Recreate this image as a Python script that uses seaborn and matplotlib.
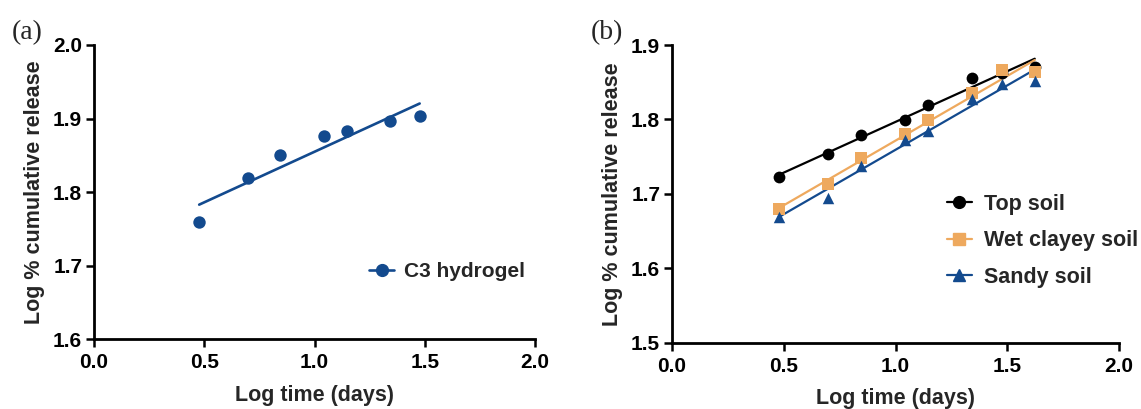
import matplotlib
matplotlib.use("Agg")
import matplotlib.pyplot as plt
from matplotlib.lines import Line2D
from matplotlib.ticker import FormatStrFormatter
import numpy as np
import pandas as pd
import seaborn as sns

# ---------------- data ----------------
log_time_a = [0.477, 0.699, 0.845, 1.041, 1.146, 1.342, 1.477]
c3_hydrogel = [1.759, 1.819, 1.851, 1.876, 1.883, 1.897, 1.903]

log_time_b = [0.477, 0.699, 0.845, 1.041, 1.146, 1.342, 1.477, 1.623]
top_soil = [1.722, 1.754, 1.779, 1.799, 1.819, 1.855, 1.863, 1.871]
wet_clayey_soil = [1.679, 1.713, 1.748, 1.780, 1.799, 1.836, 1.866, 1.864]
sandy_soil = [1.669, 1.695, 1.737, 1.772, 1.785, 1.828, 1.848, 1.852]

series_b = ["Top soil", "Wet clayey soil", "Sandy soil"]
x_ticks = [0.0, 0.5, 1.0, 1.5, 2.0]
y_ticks_a = [1.6, 1.7, 1.8, 1.9, 2.0]
y_ticks_b = [1.5, 1.6, 1.7, 1.8, 1.9]

NAVY = "#134a8e"
ORANGE = "#eea95e"
BLACK = "#000000"

sns.set_theme(style="ticks")
plt.rcParams["font.family"] = ["Liberation Sans", "DejaVu Sans"]
plt.rcParams["font.weight"] = "bold"
plt.rcParams["axes.labelweight"] = "bold"

fig = plt.figure(figsize=(11.41, 4.09), dpi=100)
W, H = 1141, 409
ax_a = fig.add_axes([94 / W, 1 - 339.3 / H, 441 / W, 294.3 / H])
ax_b = fig.add_axes([672 / W, 1 - 342.7 / H, 447 / W, 297.7 / H])

TICK_FS = 15
LAB_FS = 15.5

def style_axes(ax, yticks):
    ax.set_xlim(0, 2.0)
    ax.set_ylim(yticks[0], yticks[-1])
    ax.set_xticks(x_ticks)
    ax.set_yticks(yticks)
    ax.xaxis.set_major_formatter(FormatStrFormatter("%.1f"))
    ax.yaxis.set_major_formatter(FormatStrFormatter("%.1f"))
    for s in ["top", "right"]:
        ax.spines[s].set_visible(False)
    for s in ["left", "bottom"]:
        ax.spines[s].set_linewidth(2.0)
        ax.spines[s].set_color("black")
    ax.tick_params(axis="x", direction="out", length=6, width=1.8, colors="black",
                   labelsize=TICK_FS, pad=4)
    ax.tick_params(axis="y", direction="out", length=5.5, width=1.8, colors="black",
                   labelsize=TICK_FS, pad=3)
    for lab in ax.get_xticklabels() + ax.get_yticklabels():
        lab.set_fontweight("bold")
    ax.set_xlabel("Log time (days)", fontsize=LAB_FS, fontweight="bold", labelpad=9)
    ax.set_ylabel("Log % cumulative release", fontsize=LAB_FS, fontweight="bold", labelpad=6)
    ax.set_facecolor("white")

# ---------------- panel (a) ----------------
df_a = pd.DataFrame({"x": log_time_a, "y": c3_hydrogel})
sns.regplot(data=df_a, x="x", y="y", ax=ax_a, ci=None, truncate=True,
            marker="o", color=NAVY,
            scatter_kws={"s": 80, "color": NAVY, "linewidths": 0, "alpha": 1, "zorder": 3},
            line_kws={"lw": 1.9, "color": NAVY, "zorder": 2})
style_axes(ax_a, y_ticks_a)
h_a = [Line2D([], [], color=NAVY, lw=1.9, marker="o", markersize=8.5)]
ax_a.legend(h_a, ["C3 hydrogel"], loc="center left", bbox_to_anchor=(0.6236, 0.229),
            frameon=False, borderpad=0, borderaxespad=0, handlelength=1.2,
            handletextpad=0.5, prop={"size": 15, "weight": "bold"})

# ---------------- panel (b) ----------------
df_b = pd.DataFrame({
    "x": log_time_b * 3,
    "y": top_soil + wet_clayey_soil + sandy_soil,
    "soil": [s for s in series_b for _ in log_time_b],
})
styles = {
    "Top soil": (BLACK, "o", 72),
    "Wet clayey soil": (ORANGE, "s", 64),
    "Sandy soil": (NAVY, "^", 68),
}
handles = []
for soil in series_b:
    col, mk, sz = styles[soil]
    sub = df_b[df_b["soil"] == soil]
    sns.regplot(data=sub, x="x", y="y", ax=ax_b, ci=None, truncate=True,
                marker=mk, color=col,
                scatter_kws={"s": sz, "color": col, "linewidths": 0, "alpha": 1, "zorder": 3},
                line_kws={"lw": 1.6, "color": col, "zorder": 2})
    handles.append(Line2D([], [], color=col, lw=1.6, marker=mk, markersize=8.5))
style_axes(ax_b, y_ticks_b)
ax_b.legend(handles, series_b, loc="center left", bbox_to_anchor=(0.615, 0.342),
            frameon=False, borderpad=0, borderaxespad=0, handlelength=1.15,
            handletextpad=0.55, labelspacing=0.72,
            prop={"size": 15.5, "weight": "bold"})

# panel labels
fig.text(12 / W, 1 - 39 / H, "(a)", family=["Liberation Serif", "DejaVu Serif"],
         fontsize=20, va="baseline", ha="left", fontweight="normal")
fig.text(591 / W, 1 - 39 / H, "(b)", family=["Liberation Serif", "DejaVu Serif"],
         fontsize=20, va="baseline", ha="left", fontweight="normal")

fig.savefig("out.png", dpi=100, facecolor="white")
